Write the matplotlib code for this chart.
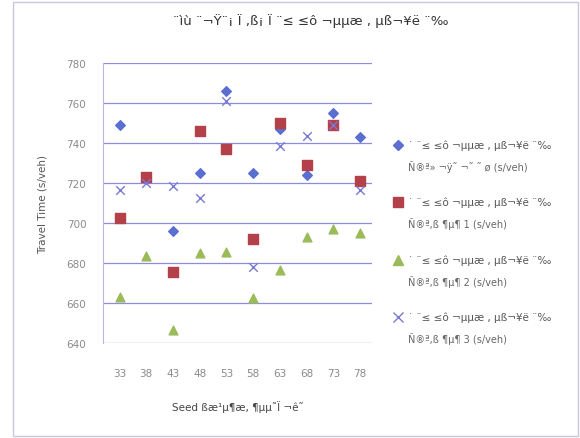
import numpy as np
import matplotlib.pyplot as plt
from matplotlib.patches import Rectangle
from matplotlib.lines import Line2D

# seeds on the category axis
seeds = ["33", "38", "43", "48", "53", "58", "63", "68", "73", "78"]

# travel time per seed (s/veh)
series_a = [749, 722, 696, 725, 766, 725, 747, 724, 755, 743]
series_b = [702.5, 723, 675.5, 746, 737, 692, 750, 729, 749, 721]
series_c = [663, 683.5, 646.5, 685, 685.5, 662.5, 676.5, 693, 697, 695]
series_d = [716.5, 720, 718.5, 712.5, 761, 678, 738.5, 743.5, 749, 716.5]

y_ticks = [640, 660, 680, 700, 720, 740, 760, 780]

title = "¨ìù ¨¬Ÿ¨¡ Ï ,ß¡ Ï ¨≤ ≤ô ¬µµæ , µß¬¥ë ¨‰"
xlabel = "Seed ßæ¹µ¶æ, ¶µµ˜Ï ¬ê˜"
ylabel = "Travel Time (s/veh)"
leg_top = "˙ ¨≤ ≤ô ¬µµæ , µß¬¥ë ¨‰"
leg_bottom = ["Ñ®ª» ¬ÿ˜ ¬˜ ˜ ø (s/veh)",
              "Ñ®ª,ß ¶µ¶ 1 (s/veh)",
              "Ñ®ª,ß ¶µ¶ 2 (s/veh)",
              "Ñ®ª,ß ¶µ¶ 3 (s/veh)"]

blue = "#5a6fd0"
red = "#b4404a"
green = "#9bbb59"
xcol = "#7a7ad6"
grey = "#8a8a8a"

fig = plt.figure(figsize=(5.8, 4.39), dpi=100)
fig.patches.append(Rectangle((13 / 580, 2 / 439), 565 / 580, 434 / 439,
                             transform=fig.transFigure, fill=False,
                             edgecolor="#c8c8dc", linewidth=1))

ax = fig.add_axes([103 / 580, 1 - 344 / 439, 269 / 580, 280 / 439])
x = np.arange(len(seeds))

ax.scatter(x, series_a, marker="D", s=24, color=blue, zorder=3)
ax.scatter(x, series_b, marker="s", s=44, color=red, zorder=3)
ax.scatter(x, series_c, marker="^", s=40, color=green, zorder=3)
ax.scatter(x, series_d, marker="x", s=38, color=xcol, linewidths=1.0, zorder=4)

ax.set_xlim(-0.62, 9.45)
ax.set_ylim(640, 780)
ax.set_yticks(y_ticks)
ax.set_xticks(x)
ax.set_xticklabels(seeds)
ax.yaxis.grid(True, color="#8c8cdc", linewidth=0.9)
ax.set_axisbelow(True)
for s in ["top", "right", "bottom"]:
    ax.spines[s].set_visible(False)
ax.spines["left"].set_color("#b8b8e0")
ax.tick_params(length=0, labelsize=7.5, colors=grey, pad=12)
ax.tick_params(axis="x", pad=18)

ax.set_ylabel(ylabel, fontsize=7.5, color="#555555", labelpad=14)
ax.set_xlabel(xlabel, fontsize=7.5, color="#444444", labelpad=16)
fig.text(0.535, 0.952, title, ha="center", va="center", fontsize=9.5, color="#333333")

# legend built by hand on the right
markers = [("D", blue, 5), ("s", red, 7), ("^", green, 7), ("x", xcol, 7)]
ys = [146, 203, 261, 318]
for (m, c, ms), yp, bot in zip(markers, ys, leg_bottom):
    fig.add_artist(Line2D([398 / 580], [1 - yp / 439], marker=m, color=c,
                          markersize=ms, linestyle="none",
                          transform=fig.transFigure))
    fig.text(408 / 580, 1 - yp / 439, leg_top, fontsize=7.5, color="#555555",
             va="center", ha="left")
    fig.text(408 / 580, 1 - (yp + 21) / 439, bot, fontsize=7, color="#666666",
             va="center", ha="left")

fig.savefig("out.png", dpi=100)
